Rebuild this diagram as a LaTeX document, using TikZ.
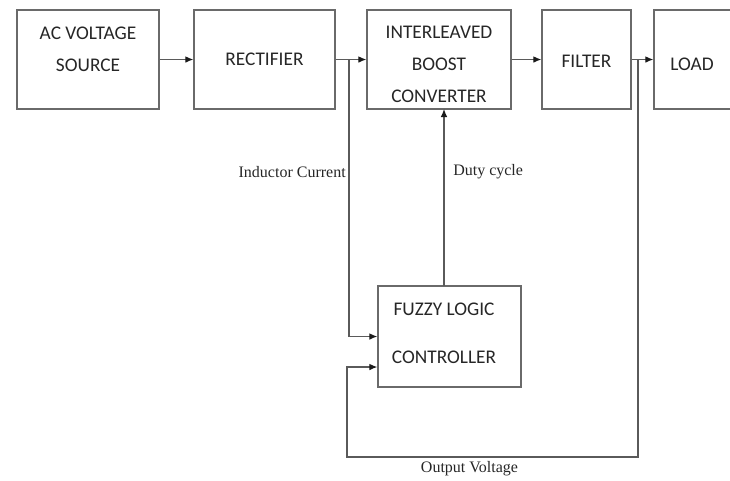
\documentclass[tikz,border=0pt]{standalone}
\usepackage{fontspec}
\setmainfont{Liberation Serif}
\newfontfamily\boxfont{Carlito}
\usetikzlibrary{arrows.meta}
\definecolor{linec}{HTML}{5A5A5A}
\definecolor{boxc}{HTML}{6A6A6A}
\definecolor{txtc}{HTML}{262626}
\definecolor{tipc}{HTML}{1A1A1A}
\tikzset{
  blk/.style={draw=boxc, line width=1pt, rectangle, inner sep=0pt, text=txtc,
    font=\boxfont\fontsize{14.5}{24}\selectfont, align=center},
  btxt/.style={inner sep=0pt, text=txtc, font=\boxfont\fontsize{14.5}{24}\selectfont, align=center},
  lbl/.style={inner sep=0pt, text=txtc, font=\fontsize{12}{14}\selectfont},
  conn/.style={draw=linec, line width=0.9pt},
  arr/.style={conn, -{Latex[length=6pt,width=5pt,color=tipc]}}
}
\begin{document}
\begin{tikzpicture}[x=0.75pt,y=-0.75pt]
\useasboundingbox (0,0) rectangle (730,480);
% boxes
\node[blk, minimum width=106.5pt, minimum height=74.25pt] (ac) at (88,59.5) {};
\node[btxt] (actxt) at (88,49) {AC VOLTAGE\\SOURCE};
\node[blk, minimum width=105.75pt, minimum height=74.25pt] (rect) at (264.5,59.5) {RECTIFIER};
\node[blk, minimum width=108pt, minimum height=74.25pt] (ibc) at (439,59.5) {};
\node[btxt] (ibctxt) at (439,64) {INTERLEAVED\\BOOST\\CONVERTER};
\node[blk, minimum width=66.75pt, minimum height=74.25pt] (filt) at (586.5,59.5) {};
\node[btxt] (filttxt) at (586.5,61) {FILTER};
\node[blk, minimum width=58.5pt, minimum height=74.25pt] (load) at (693,59.5) {};
\node[btxt] (loadtxt) at (692,64) {LOAD};
\node[blk, minimum width=107.25pt, minimum height=75.75pt] (flc) at (449.5,336.5) {};
\node[btxt, font=\boxfont\fontsize{14.5}{36}\selectfont] (flctxt) at (444,333) {FUZZY LOGIC\\CONTROLLER};
% junctions and bends
\coordinate (j1) at (349,59.5);
\coordinate (j2) at (638,59.5);
\coordinate (c1) at (349,336.5);
\coordinate (c2) at (638,457);
\coordinate (c3) at (347,457);
\coordinate (c4) at (347,367);
\coordinate (d1) at (444,286);
\coordinate (d2) at (444,109);
% main path
\draw[arr] (ac.east) -- (rect.west);
\draw[arr] (rect.east) -- (ibc.west);
\draw[arr] (ibc.east) -- (filt.west);
\draw[arr] (filt.east) -- (load.west);
% feedback
\draw[arr] (j1) -- (c1) -- (flc.west);
\draw[arr] (j2) -- (c2) -- (c3) -- (c4) -- (c4 -| flc.west);
\draw[arr] (d1) -- (d2);
% labels
\node[lbl, anchor=east] (ilbl) at (346,172) {Inductor Current};
\node[lbl, anchor=west] (dlbl) at (453,172) {Duty cycle};
\node[lbl] (olbl) at (469.5,469) {Output Voltage};
\end{tikzpicture}
\end{document}
